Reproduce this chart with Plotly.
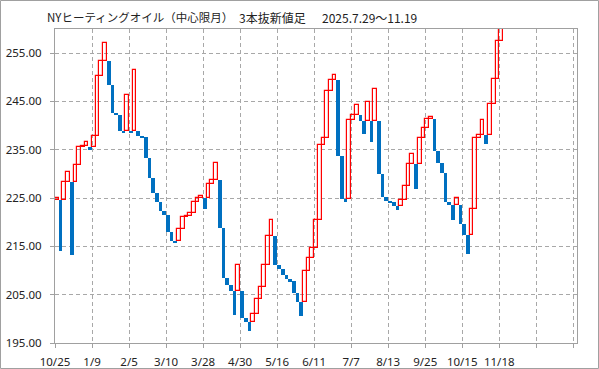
import plotly.graph_objects as go

# Three-line-break bars: each bar goes from bar_from to bar_to (up if to > from)
bar_from = [
    224.7, 224.7, 224.7, 228.4, 228.4, 228.4, 231.75, 235.5, 235.8, 235.5,
    235.5, 237.8, 250.2, 253.3, 253.3, 248.4, 242.7, 242.3, 238.9, 238.9,
    238.9, 238.9, 238.9, 237.8, 237.6, 233.4, 229.1, 226.1, 224.1, 222.3,
    221.5, 218.0, 216.2, 216.2, 218.7, 221.0, 221.2, 222.0, 224.2, 225.0,
    225.0, 225.0, 228.0, 228.8, 228.8, 218.9, 208.4, 207.0, 205.8, 205.8,
    205.8, 200.2, 199.4, 199.4, 201.0, 204.1, 206.6, 211.2, 217.2, 217.2,
    211.1, 210.3, 209.0, 208.2, 207.8, 205.3, 203.5, 203.5, 209.9, 212.6,
    214.7, 220.5, 235.9, 237.4, 247.2, 249.4, 249.4, 233.8, 224.9, 224.9,
    241.1, 242.1, 242.1, 240.9, 240.9, 240.9, 240.9, 240.9, 230.0, 225.2,
    224.4, 224.1, 223.4, 223.4, 224.5, 227.4, 232.0, 232.0, 232.0, 237.4,
    239.5, 241.4, 241.4, 234.8, 232.3, 230.2, 224.2, 223.6, 223.6, 223.6,
    219.6, 217.4, 217.4, 222.8, 237.4, 238.0, 238.0, 238.0, 244.4, 249.6,
    257.5,
]
bar_to = [
    225.0, 214.0, 228.4, 230.5, 213.2, 231.75, 235.5, 235.8, 236.7, 235.1,
    237.8, 250.2, 253.3, 257.1, 248.4, 242.7, 242.3, 238.9, 238.5, 246.3,
    238.4, 251.5, 237.8, 237.6, 233.4, 229.1, 226.1, 224.1, 222.3, 221.5,
    218.0, 216.2, 215.7, 218.7, 221.0, 221.2, 222.0, 224.2, 225.0, 225.5,
    222.7, 228.0, 228.8, 232.2, 218.9, 208.4, 207.0, 205.8, 200.7, 211.2,
    200.2, 199.4, 197.4, 201.0, 204.1, 206.6, 211.2, 217.2, 220.5, 211.1,
    210.3, 209.0, 208.2, 207.8, 205.3, 203.5, 200.6, 209.9, 212.6, 214.7,
    220.5, 235.9, 237.4, 247.2, 249.4, 250.4, 233.8, 224.9, 224.1, 241.1,
    242.1, 244.2, 240.9, 238.3, 244.9, 236.7, 247.5, 230.0, 225.2, 224.4,
    224.1, 223.4, 222.5, 224.5, 227.4, 232.0, 234.2, 226.9, 237.4, 239.5,
    241.4, 241.7, 234.8, 232.3, 230.2, 224.2, 223.6, 220.4, 225.0, 219.6,
    217.4, 213.5, 222.8, 237.4, 238.0, 241.1, 236.2, 244.4, 249.6, 257.5,
    263.0,
]
tick_labels = ["10/25", "1/9", "2/5", "3/10", "3/28", "4/30", "5/16",
               "6/11", "7/7", "8/13", "9/25", "10/15", "11/18", "", ""]
y_ticks = [195, 205, 215, 225, 235, 245, 255]
title_parts = ["NYヒーティングオイル（中心限月）", "3本抜新値足", "2025.7.29〜11.19"]

up_x, up_base, up_h = [], [], []
dn_x, dn_base, dn_h = [], [], []
for i, (a, b) in enumerate(zip(bar_from, bar_to)):
    if b >= a:
        up_x.append(i + 0.5); up_base.append(a); up_h.append(b - a)
    else:
        dn_x.append(i + 0.5); dn_base.append(b); dn_h.append(a - b)

fig = go.Figure()
fig.add_trace(go.Bar(x=dn_x, y=dn_h, base=dn_base, width=1,
                     marker=dict(color="#0070C0", line=dict(width=0)),
                     hoverinfo="skip"))
fig.add_trace(go.Bar(x=up_x, y=up_h, base=up_base, width=1,
                     marker=dict(color="rgba(255,255,255,0)",
                                 line=dict(color="#FF0000", width=1.2)),
                     hoverinfo="skip"))

L, R, T, B = 55, 22, 29, 26
W, H = 599, 369
pw, ph = W - L - R, H - T - B
TXT = "#222222"
tickfont = dict(family="Noto Sans, Noto Sans CJK JP", size=11.5, color=TXT)

fig.update_layout(
    width=W, height=H,
    margin=dict(l=L, r=R, t=T, b=B, autoexpand=False),
    paper_bgcolor="white", plot_bgcolor="white",
    showlegend=False, bargap=0, barmode="overlay",
    font=dict(family="Noto Sans CJK JP", size=12, color=TXT),
    xaxis=dict(range=[0, 141], tickmode="array",
               tickvals=list(range(0, 150, 10)), ticktext=tick_labels,
               showgrid=True, gridcolor="#A8A8A8", griddash="4px,3px", gridwidth=1,
               showline=True, linecolor="#A0A0A0", linewidth=1, mirror=True,
               ticks="outside", ticklen=4, tickcolor="#A0A0A0",
               ticklabelstandoff=4,
               zeroline=False, fixedrange=True, automargin=False,
               tickfont=tickfont),
    yaxis=dict(range=[195, 260], tickmode="array", tickvals=y_ticks,
               tickformat=".2f",
               showgrid=True, gridcolor="#A8A8A8", griddash="4px,3px", gridwidth=1,
               showline=True, linecolor="#A0A0A0", linewidth=1, mirror=True,
               ticks="outside", ticklen=4, tickcolor="#A0A0A0",
               ticklabelstandoff=6,
               zeroline=False, fixedrange=True, automargin=False,
               tickfont=tickfont),
)

# title pieces placed at the reference positions (pixels)
title_px = [(46, 11.5), (238, 12), (321, 12)]
for text, (px, size) in zip(title_parts, title_px):
    fig.add_annotation(text=text, xref="paper", yref="paper",
                       x=(px - L) / pw, y=(H - B - 17) / ph,
                       xanchor="left", yanchor="middle", showarrow=False,
                       borderpad=0,
                       font=dict(family="Noto Sans CJK JP", size=size, color=TXT))

# outer frame of the whole picture
fig.add_shape(type="rect", xref="paper", yref="paper",
              x0=(0.5 - L) / pw, x1=(W - 0.5 - L) / pw,
              y0=(H - B - (H - 0.5)) / ph, y1=(H - B - 0.5) / ph,
              line=dict(color="#A0A0A0", width=1), fillcolor="rgba(0,0,0,0)",
              layer="above")

fig.write_html("out.html", config={"displayModeBar": False},
               post_script="document.body.style.margin='0';"
                           "document.body.style.overflow='hidden';")
